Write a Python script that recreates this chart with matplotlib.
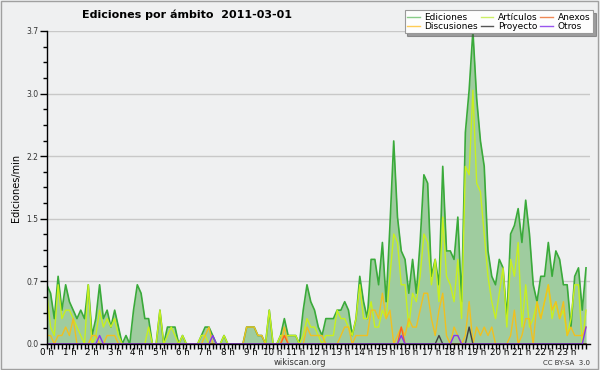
#! /usr/bin/env python

# import modules
import numpy
import matplotlib
matplotlib.use('Agg')
import matplotlib.pyplot
from matplotlib.lines import Line2D
from matplotlib.patches import Rectangle

# Data: ediciones/min, bins of 10 minutes (144 per day)
# ----------------------------------------------------
ediciones = [
    0.7, 0.6, 0.3, 0.8, 0.4, 0.7, 0.5, 0.4, 0.3, 0.4, 0.3, 0.7,
    0.1, 0.3, 0.7, 0.3, 0.4, 0.2, 0.4, 0.2, 0.0, 0.1, 0.0, 0.4,
    0.7, 0.6, 0.3, 0.3, 0.0, 0.0, 0.4, 0.0, 0.2, 0.2, 0.2, 0.0,
    0.1, 0.0, 0.0, 0.0, 0.0, 0.1, 0.2, 0.2, 0.1, 0.0, 0.0, 0.1,
    0.0, 0.0, 0.0, 0.0, 0.0, 0.2, 0.2, 0.2, 0.1, 0.1, 0.0, 0.4,
    0.0, 0.0, 0.1, 0.3, 0.1, 0.1, 0.1, 0.0, 0.4, 0.7, 0.5, 0.4,
    0.2, 0.1, 0.3, 0.3, 0.3, 0.4, 0.4, 0.5, 0.4, 0.1, 0.3, 0.8,
    0.5, 0.3, 1.0, 1.0, 0.7, 1.2, 0.5, 1.4, 2.4, 1.5, 1.1, 1.0,
    0.6, 1.0, 0.6, 1.2, 2.0, 1.9, 0.8, 1.0, 0.7, 2.1, 1.1, 1.1,
    1.0, 1.5, 0.5, 2.5, 3.0, 3.7, 2.9, 2.4, 2.1, 1.1, 0.8, 0.7,
    1.0, 0.9, 0.3, 1.3, 1.4, 1.6, 1.2, 1.7, 1.3, 0.7, 0.5, 0.8,
    0.8, 1.2, 0.8, 1.1, 1.0, 0.7, 0.7, 0.2, 0.8, 0.9, 0.4, 0.9]

articulos = [
    0.6, 0.2, 0.1, 0.7, 0.3, 0.4, 0.4, 0.3, 0.2, 0.1, 0.0, 0.7,
    0.0, 0.1, 0.4, 0.2, 0.3, 0.2, 0.3, 0.1, 0.0, 0.0, 0.0, 0.0,
    0.0, 0.0, 0.0, 0.2, 0.0, 0.0, 0.4, 0.0, 0.1, 0.2, 0.1, 0.0,
    0.1, 0.0, 0.0, 0.0, 0.0, 0.1, 0.1, 0.0, 0.0, 0.0, 0.0, 0.1,
    0.0, 0.0, 0.0, 0.0, 0.0, 0.0, 0.0, 0.0, 0.0, 0.0, 0.0, 0.4,
    0.0, 0.0, 0.1, 0.1, 0.1, 0.1, 0.1, 0.0, 0.1, 0.3, 0.2, 0.2,
    0.1, 0.0, 0.1, 0.1, 0.1, 0.4, 0.3, 0.3, 0.2, 0.1, 0.3, 0.7,
    0.3, 0.3, 0.5, 0.2, 0.2, 0.4, 0.3, 0.8, 1.3, 1.2, 0.7, 0.7,
    0.2, 0.6, 0.5, 0.8, 1.3, 1.2, 0.7, 1.0, 0.5, 1.5, 0.8, 0.7,
    0.5, 1.0, 0.3, 2.1, 2.0, 3.0, 1.9, 1.8, 1.3, 0.8, 0.5, 0.3,
    0.6, 0.9, 0.2, 1.0, 0.8, 1.2, 0.2, 0.7, 0.2, 0.3, 0.5, 0.3,
    0.5, 0.7, 0.3, 0.5, 0.3, 0.4, 0.1, 0.3, 0.7, 0.7, 0.0, 0.4]

discusiones = [
    0.1, 0.1, 0.0, 0.1, 0.1, 0.2, 0.1, 0.3, 0.0, 0.0, 0.0, 0.0,
    0.1, 0.1, 0.0, 0.0, 0.1, 0.1, 0.1, 0.0, 0.0, 0.0, 0.0, 0.0,
    0.0, 0.0, 0.0, 0.0, 0.0, 0.0, 0.0, 0.0, 0.0, 0.0, 0.0, 0.0,
    0.0, 0.0, 0.0, 0.0, 0.0, 0.0, 0.1, 0.2, 0.0, 0.0, 0.0, 0.0,
    0.0, 0.0, 0.0, 0.0, 0.0, 0.2, 0.2, 0.2, 0.1, 0.1, 0.0, 0.0,
    0.0, 0.0, 0.0, 0.2, 0.0, 0.0, 0.0, 0.0, 0.0, 0.2, 0.1, 0.1,
    0.1, 0.1, 0.0, 0.0, 0.0, 0.0, 0.1, 0.2, 0.2, 0.0, 0.1, 0.1,
    0.1, 0.1, 0.4, 0.4, 0.3, 0.6, 0.3, 0.4, 0.0, 0.1, 0.2, 0.1,
    0.3, 0.2, 0.2, 0.4, 0.6, 0.6, 0.3, 0.1, 0.4, 0.6, 0.1, 0.0,
    0.2, 0.1, 0.0, 0.1, 0.5, 0.0, 0.2, 0.1, 0.2, 0.1, 0.2, 0.0,
    0.0, 0.0, 0.0, 0.1, 0.4, 0.0, 0.1, 0.3, 0.3, 0.0, 0.5, 0.3,
    0.5, 0.7, 0.4, 0.5, 0.3, 0.5, 0.1, 0.2, 0.1, 0.1, 0.1, 0.2]

# sparse series: {bin index: value}
anexos = {63: 0.1, 94: 0.2}
proyecto = {104: 0.1, 112: 0.2}
otros = {14: 0.1, 44: 0.1, 94: 0.1, 108: 0.1, 109: 0.1, 143: 0.2}

hour_labels = ['{} h'.format(h) for h in range(24)]
ymax = 3.7


def sparse(d, n=144):
    arr = numpy.zeros(n)
    for k, v in d.items():
        arr[k] = v
    return arr


# Figure
# ------
bg = '#eff0f1'
fig = matplotlib.pyplot.figure(figsize=(6.0, 3.7), dpi=100, facecolor=bg)
fig.patches.append(Rectangle((0.002, 0.003), 0.995, 0.994, transform=fig.transFigure,
                             fill=False, edgecolor='#a0a0a0', linewidth=1.0))
ax = fig.add_axes([0.078, 0.0703, 0.905, 0.8460], facecolor=bg)

x = numpy.arange(len(ediciones)) / 6.0

ax.fill_between(x, 0, ediciones, color='#9fcc9f', linewidth=0, zorder=2)
ax.plot(x, ediciones, color='#3aaa3a', linewidth=1.2, zorder=3)
ax.plot(x, articulos, color='#c8f01e', linewidth=1.0, zorder=4)
ax.plot(x, discusiones, color='#f0c020', linewidth=1.0, zorder=4)
ax.plot(x, sparse(anexos), color='#ff6020', linewidth=1.0, zorder=5)
ax.plot(x, sparse(proyecto), color='#404040', linewidth=1.0, zorder=5)
ax.plot(x, sparse(otros), color='#8833ee', linewidth=1.0, zorder=5)

# axes options
# ------------
ax.set_xlim(0, 24)
ax.set_ylim(0, ymax)
yt = [ymax * k / 5 for k in range(6)]
ax.set_yticks(yt)
ax.set_yticklabels(['{:.1f}'.format(v) for v in yt], fontsize=5.5, color='#333333')
ax.set_yticks([ymax * k / 20 for k in range(21)], minor=True)
ax.set_xticks(range(24))
ax.set_xticklabels(hour_labels, fontsize=6.3)
ax.set_xticks(numpy.arange(0, 24, 1 / 6.0), minor=True)
ax.tick_params(axis='x', which='both', direction='out', length=3.5, width=1, pad=-0.5)
ax.tick_params(axis='y', which='major', direction='out', length=5, width=1, pad=1)
ax.tick_params(axis='y', which='minor', direction='out', length=3, width=1)
ax.grid(axis='y', which='major', color='#c8c8c8', linewidth=1.0, zorder=1)
ax.set_axisbelow(True)
for s in ['top', 'right']:
    ax.spines[s].set_visible(False)
for s in ['left', 'bottom']:
    ax.spines[s].set_linewidth(1.0)
    ax.spines[s].set_zorder(6)
ax.set_ylabel('Ediciones/min', fontsize=7, labelpad=4)

# texts
# -----
fig.text(0.3125, 0.960, 'Ediciones por ámbito  2011-03-01', ha='center', va='center',
         fontsize=8, fontweight='bold')
fig.text(0.5, 0.020, 'wikiscan.org', ha='center', va='center', fontsize=6, color='#333333')
fig.text(0.983, 0.020, 'CC BY-SA  3.0', ha='right', va='center', fontsize=5, color='#333333')

# legend
# ------
handles = [Line2D([], [], color='#88cc88', lw=1), Line2D([], [], color='#ffcc55', lw=1),
           Line2D([], [], color='#ccee66', lw=1), Line2D([], [], color='#555555', lw=1),
           Line2D([], [], color='#ee8855', lw=1), Line2D([], [], color='#9955ee', lw=1)]
labels = ['Ediciones', 'Discusiones', 'Artículos', 'Proyecto', 'Anexos', 'Otros']
leg = fig.legend(handles, labels, ncol=3, loc='upper right', bbox_to_anchor=(0.988, 0.973),
                 fontsize=6.5, frameon=True, fancybox=False, shadow=True, handlelength=1.4,
                 handletextpad=0.5, columnspacing=0.3, labelspacing=0.0, borderpad=0.3,
                 borderaxespad=0)
leg.get_frame().set_facecolor('#fdfdfd')
leg.get_frame().set_edgecolor('#999999')
leg.get_frame().set_linewidth(0.8)

fig.savefig('out.png', dpi=100, facecolor=bg)
